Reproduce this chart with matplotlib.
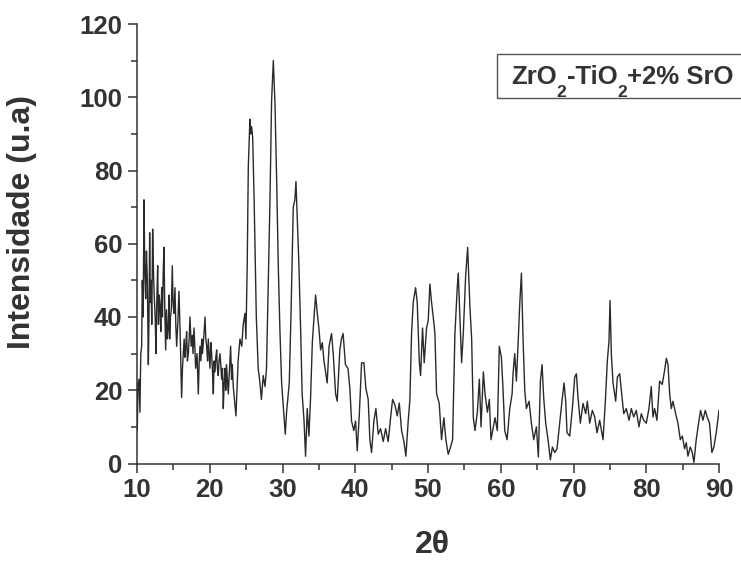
import numpy as np
import matplotlib.pyplot as plt
from matplotlib.patches import Rectangle
from matplotlib.ticker import MultipleLocator

#%% Data (2theta in degrees, intensity in u.a)
# 10 - 23 deg : noisy amorphous background
theta_a = [10.00, 10.04, 10.12, 10.27, 10.40, 10.52, 10.64, 10.73, 10.85, 10.96,
           11.08, 11.19, 11.30, 11.42, 11.56, 11.65, 11.74, 11.83, 11.92, 12.03,
           12.15, 12.27, 12.38, 12.50, 12.61, 12.72, 12.84, 12.95, 13.05, 13.16,
           13.27, 13.39, 13.50, 13.60, 13.71, 13.82, 13.94, 14.05, 14.18, 14.30,
           14.40, 14.49, 14.60, 14.72, 14.85, 14.96, 15.08, 15.22, 15.33, 15.45,
           15.60, 15.77, 15.95, 16.13, 16.25, 16.36, 16.48, 16.59, 16.70, 16.82,
           16.93, 17.05, 17.17, 17.28, 17.45, 17.60, 17.70, 17.83, 17.95, 18.06,
           18.25, 18.43, 18.55, 18.66, 18.78, 18.90, 19.00, 19.12, 19.23, 19.35,
           19.46, 19.58, 19.70, 19.80, 19.92, 20.03, 20.15, 20.26, 20.38, 20.49,
           20.60, 20.72, 20.83, 20.95, 21.05, 21.17, 21.28, 21.40, 21.52, 21.63,
           21.75, 21.86, 21.98, 22.10, 22.20, 22.30, 22.42, 22.55, 22.70, 22.87,
           23.00, 23.10, 23.23]
int_a = [22, 9, 20, 23, 14, 30, 32, 50, 40, 72,
         52, 45, 58, 50, 27, 40, 63, 44, 50, 38,
         64, 52, 45, 40, 30, 44, 54, 38, 46, 43,
         36, 48, 40, 52, 59, 42, 31, 42, 34, 37,
         46, 34, 40, 42, 54, 44, 41, 48, 38, 32,
         38, 47, 34, 18, 26, 30, 34, 29, 32, 36,
         28, 30, 34, 40, 32, 35, 30, 37, 32, 26,
         30, 19, 28, 32, 28, 34, 30, 33, 36, 40,
         34, 32, 28, 34, 30, 26, 33, 30, 25, 19,
         28, 25, 29, 31, 26, 24, 28, 30, 27, 23,
         26, 15, 22, 26, 20, 27, 23, 19, 25, 32,
         23, 27, 21]

# 23 - 36 deg : the three strong reflections
theta_b = [23.60, 23.90, 24.15, 24.40, 24.60, 24.84, 24.97, 25.15, 25.30, 25.52,
           25.62, 25.75, 25.90, 26.10, 26.40, 26.66, 26.90, 27.10, 27.35, 27.60,
           27.80, 28.00, 28.28, 28.50, 28.74, 28.85, 28.97, 29.20, 29.42, 29.65,
           29.88, 30.20, 30.38, 30.56, 30.93, 31.16, 31.48, 31.70, 31.85, 32.03,
           32.26, 32.50, 32.70, 32.95, 33.17, 33.40, 33.63, 33.86, 34.10, 34.30,
           34.55, 34.78, 35.00, 35.24, 35.47, 35.70]
int_b = [13, 28, 34, 32, 38, 41, 34, 54, 81, 94,
         90, 92, 89, 72, 40, 26, 22, 17.5, 24, 21,
         26, 45, 72, 99, 110, 104, 98, 77, 54, 36,
         22, 13, 8, 14, 22, 40, 70, 72, 77, 67,
         54, 36, 19, 12, 2, 15, 7.5, 18, 33, 39,
         46, 41, 37, 31, 33, 28]

# 36 - 60 deg
theta_c = [36.14, 36.40, 36.74, 36.97, 37.30, 37.52, 37.88, 38.10, 38.33, 38.65,
           39.00, 39.26, 39.49, 39.80, 40.04, 40.27, 40.55, 40.87, 41.19, 41.46,
           41.78, 42.01, 42.24, 42.56, 42.84, 43.16, 43.48, 43.85, 44.17, 44.53,
           44.86, 45.13, 45.45, 45.77, 46.05, 46.37, 46.69, 46.96, 47.28, 47.51,
           47.74, 47.97, 48.29, 48.52, 48.80, 48.98, 49.25, 49.48, 49.80, 50.03,
           50.26, 50.49, 50.72, 50.95, 51.18, 51.54, 51.86, 52.18, 52.46, 52.78,
           53.10, 53.38, 53.70, 54.02, 54.16, 54.39, 54.62, 54.85, 55.17, 55.45,
           55.77, 56.00, 56.23, 56.46, 56.78, 57.06, 57.29, 57.61, 57.84, 58.16,
           58.43, 58.66, 58.98, 59.21, 59.53, 59.80]
int_c = [22, 32, 35.5, 30, 19, 17, 31, 34, 35.5, 27,
         26, 20.5, 11.6, 9, 11.6, 3.5, 13, 27.5, 27.5, 20.5,
         17.5, 6.5, 3, 11.6, 15, 8, 9.5, 6, 9.5, 6,
         12.5, 17.5, 16, 13, 16.5, 9, 6, 2, 11.6, 17.5,
         35.5, 44, 48, 44, 28, 24, 37, 27.5, 37, 39,
         49, 44, 40, 35.5, 19, 16.5, 6.5, 12.5, 6.5, 2.5,
         4.5, 6.5, 35.5, 48, 52, 40, 27.5, 35.5, 51, 59,
         42.5, 34, 12.5, 9, 14, 23, 10, 25, 19, 14,
         17.5, 6.5, 10, 12.5, 9, 32]

# 60 - 90 deg
theta_d = [60.09, 60.32, 60.55, 60.87, 61.24, 61.56, 61.69, 61.92, 62.15, 62.38,
           62.61, 62.84, 63.07, 63.30, 63.52, 63.89, 64.21, 64.53, 64.90, 65.17,
           65.45, 65.68, 65.90, 66.18, 66.50, 66.82, 67.10, 67.42, 67.73, 68.10,
           68.47, 68.70, 68.93, 69.11, 69.48, 69.84, 70.17, 70.40, 70.62, 70.94,
           71.31, 71.68, 71.90, 72.23, 72.59, 72.91, 73.23, 73.60, 74.06, 74.38,
           74.65, 74.88, 75.02, 75.20, 75.43, 75.80, 76.03, 76.35, 76.58, 76.90,
           77.26, 77.63, 77.95, 78.27, 78.63, 79.00, 79.32, 79.64, 80.00, 80.37,
           80.69, 80.92, 81.15, 81.47, 81.84, 82.20, 82.53, 82.76, 82.99, 83.22,
           83.44, 83.67, 84.04, 84.36, 84.68, 84.96, 85.27, 85.50, 85.73, 86.05,
           86.33, 86.55, 86.87, 87.19, 87.47, 87.79, 88.11, 88.38, 88.70, 89.02,
           89.30, 89.62, 90.00]
int_d = [29, 20, 9, 6.5, 15, 19, 24.5, 30, 22.5, 32.5,
         43.5, 52, 33.7, 20, 15, 17, 11, 6.5, 10, 1.8,
         22.5, 27, 18, 11, 6.5, 1, 4.5, 3, 4, 11,
         18, 22, 17, 8.4, 7.5, 15, 23.6, 24.5, 18, 11,
         16.4, 13.6, 17, 11, 14.5, 12.7, 8.4, 11.8, 6.5, 17,
         28, 33.5, 44.5, 30, 22, 17, 23.6, 24.5, 20, 13.6,
         15, 11.8, 15, 12.7, 14.5, 10, 13.6, 11.8, 11, 15,
         21, 12.7, 15, 11.8, 22.5, 21.6, 25.5, 28.7, 27, 19,
         15, 17, 13.6, 11, 6.5, 7.5, 4, 5.7, 2, 4.5,
         3, 0.3, 6.5, 11, 14.5, 11.8, 14.5, 12.7, 11, 3,
         4.5, 8.4, 14.5]

two_theta = np.concatenate([theta_a, theta_b, theta_c, theta_d])
intensity = np.concatenate([int_a, int_b, int_c, int_d])

x_ticks = [10, 20, 30, 40, 50, 60, 70, 80, 90]
y_ticks = [0, 20, 40, 60, 80, 100, 120]
# sample name split in pieces: (text, is_subscript)
sample_parts = [('ZrO', False), ('2', True), ('-TiO', False), ('2', True), ('+2% SrO', False)]

#%% Style
plt.rcParams['font.family'] = ['Liberation Sans', 'DejaVu Sans']
plt.rcParams['font.weight'] = 'bold'
ink = '#333333'

#%% Plot
fig = plt.figure(figsize=(7.41, 5.63), dpi=100)
ax = fig.add_axes([137/741, 99.5/563, 582/741, 439.5/563])

ax.plot(two_theta, intensity, color='#2a2a2a', lw=1.0)

ax.set_xlim(10, 90)
ax.set_ylim(0, 120)
ax.set_xticks(x_ticks)
ax.set_yticks(y_ticks)
ax.xaxis.set_minor_locator(MultipleLocator(5))
ax.yaxis.set_minor_locator(MultipleLocator(10))

for side in ['top', 'right']:
    ax.spines[side].set_visible(False)
for side in ['left', 'bottom']:
    ax.spines[side].set_linewidth(1.1)
    ax.spines[side].set_color(ink)

ax.tick_params(which='major', direction='out', length=6.5, width=1.1,
               colors=ink, labelsize=18.5, pad=4)
ax.tick_params(which='minor', direction='out', length=4, width=1.1, colors=ink)
for lab in ax.get_xticklabels() + ax.get_yticklabels():
    lab.set_fontweight('bold')

ax.set_ylabel('Intensidade (u.a)', fontsize=23, fontweight='bold', color=ink)
ax.yaxis.set_label_coords((37 - 137) / 582, (463.5 - 222) / 439.5)
ax.set_xlabel('2θ', fontsize=23, fontweight='bold', color=ink)
ax.xaxis.set_label_coords((432 - 137) / 582, (463.5 - 530) / 439.5)

# sample box in the upper right corner (runs off the right edge)
fig.patches.append(Rectangle((497/741, (563 - 98)/563), 0.4, 44/563,
                             transform=fig.transFigure, fill=False,
                             edgecolor='#555555', lw=1.0))
renderer = fig.canvas.get_renderer()
x_px = 511
base_px = 563 - 84
for txt, is_sub in sample_parts:
    if is_sub:
        t = fig.text(x_px/741, (base_px - 13)/563, txt, fontsize=12.5,
                     fontweight='bold', color=ink, ha='left', va='baseline')
    else:
        t = fig.text(x_px/741, base_px/563, txt, fontsize=18.5,
                     fontweight='bold', color=ink, ha='left', va='baseline')
    x_px += t.get_window_extent(renderer).width

fig.savefig('out.png', dpi=100)
